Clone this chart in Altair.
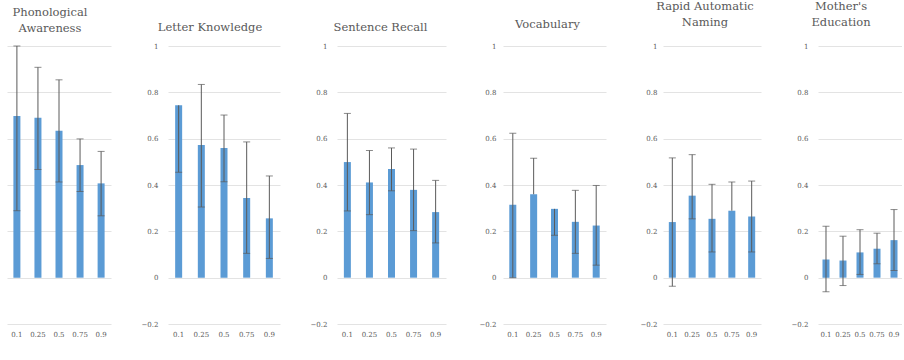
import altair as alt
import pandas as pd

quantiles = ["0.1", "0.25", "0.5", "0.75", "0.9"]
y_ticks = [-0.2, 0, 0.2, 0.4, 0.6, 0.8, 1]

panel_titles = [
    ["Phonological", "Awareness"],
    ["Letter Knowledge"],
    ["Sentence Recall"],
    ["Vocabulary"],
    ["Rapid Automatic", "Naming"],
    ["Mother's", "Education"],
]

pa_val = [0.698, 0.690, 0.634, 0.486, 0.407]
pa_lo = [0.289, 0.467, 0.413, 0.372, 0.267]
pa_hi = [1.0, 0.908, 0.854, 0.599, 0.545]

lk_val = [0.744, 0.573, 0.560, 0.344, 0.256]
lk_lo = [0.455, 0.305, 0.414, 0.105, 0.083]
lk_hi = [0.744, 0.834, 0.702, 0.586, 0.439]

sr_val = [0.499, 0.411, 0.469, 0.379, 0.283]
sr_lo = [0.288, 0.272, 0.375, 0.203, 0.150]
sr_hi = [0.709, 0.549, 0.560, 0.555, 0.420]

vo_val = [0.315, 0.360, 0.297, 0.241, 0.225]
vo_lo = [0.000, 0.360, 0.183, 0.105, 0.054]
vo_hi = [0.623, 0.516, 0.297, 0.377, 0.398]

ran_val = [0.240, 0.354, 0.254, 0.289, 0.264]
ran_lo = [-0.037, 0.254, 0.111, 0.289, 0.111]
ran_hi = [0.517, 0.531, 0.403, 0.413, 0.417]

me_val = [0.078, 0.074, 0.109, 0.125, 0.162]
me_lo = [-0.061, -0.034, 0.014, 0.060, 0.031]
me_hi = [0.222, 0.179, 0.207, 0.192, 0.294]

series = [
    (pa_val, pa_lo, pa_hi),
    (lk_val, lk_lo, lk_hi),
    (sr_val, sr_lo, sr_hi),
    (vo_val, vo_lo, vo_hi),
    (ran_val, ran_lo, ran_hi),
    (me_val, me_lo, me_hi),
]

FONT = "DejaVu Serif"
GRAY = "#595959"
BLUE = "#5B9BD5"
ERR = "#5a5a5a"

widths = [104, 112, 109, 103, 98, 84]
label_pads = [0, 10, 10, 7, 6, 10]
title_offsets = [11, 9, 9, 12, 14, 14]
title_dx = [-9, -14, -11, -7, -7, -19]


def make_panel(i):
    vals, los, his = series[i]
    df = pd.DataFrame({"q": quantiles, "value": vals, "lo": los, "hi": his})
    xenc = dict(
        sort=quantiles,
        scale=alt.Scale(paddingInner=0.66, paddingOuter=0.3),
        axis=alt.Axis(
            title=None, labelAngle=0, ticks=False, domain=False, labelPadding=6,
            labelFont=FONT, labelFontSize=7, labelColor=GRAY, labelOverlap=False,
        ),
    )
    yscale = alt.Scale(domain=[-0.2, 1], nice=False, zero=False)
    yaxis = alt.Axis(
        title=None, values=y_ticks, format="~g", ticks=False, domain=False,
        grid=True, gridColor="#e3e3e3", gridWidth=1,
        labels=(i > 0), labelPadding=label_pads[i],
        labelFont=FONT, labelFontSize=7, labelColor=GRAY,
        minExtent=0,
    )
    base = alt.Chart(df)
    bars = base.mark_bar(width=7, color=BLUE).encode(
        x=alt.X("q:N", **xenc),
        y=alt.Y("value:Q", scale=yscale, axis=yaxis),
    )
    rules = base.mark_rule(color=ERR, strokeWidth=1).encode(
        x=alt.X("q:N", **xenc),
        y=alt.Y("lo:Q", scale=yscale, axis=yaxis),
        y2="hi:Q",
    )
    cap_hi = base.transform_filter("datum.hi != datum.value").mark_tick(
        color=ERR, thickness=1, size=7
    ).encode(
        x=alt.X("q:N", **xenc),
        y=alt.Y("hi:Q", scale=yscale, axis=yaxis),
    )
    cap_lo = base.transform_filter("datum.lo != datum.value").mark_tick(
        color=ERR, thickness=1, size=7
    ).encode(
        x=alt.X("q:N", **xenc),
        y=alt.Y("lo:Q", scale=yscale, axis=yaxis),
    )
    t = panel_titles[i]
    return alt.layer(bars, rules, cap_hi, cap_lo).properties(
        width=widths[i],
        height=278,
        title=alt.TitleParams(
            text=t if len(t) > 1 else t[0],
            font=FONT, fontSize=11.5, fontWeight="normal", color=GRAY,
            lineHeight=16, offset=title_offsets[i], anchor="middle",
            dx=title_dx[i],
        ),
    )


chart = alt.hconcat(
    *[make_panel(i) for i in range(6)], spacing=57, bounds="flush"
).properties(
    padding={"left": 7, "top": 0, "right": 0, "bottom": 0},
    background="white",
).configure_view(stroke=None)

chart.save("out.html", embed_options={"renderer": "svg", "actions": False})
